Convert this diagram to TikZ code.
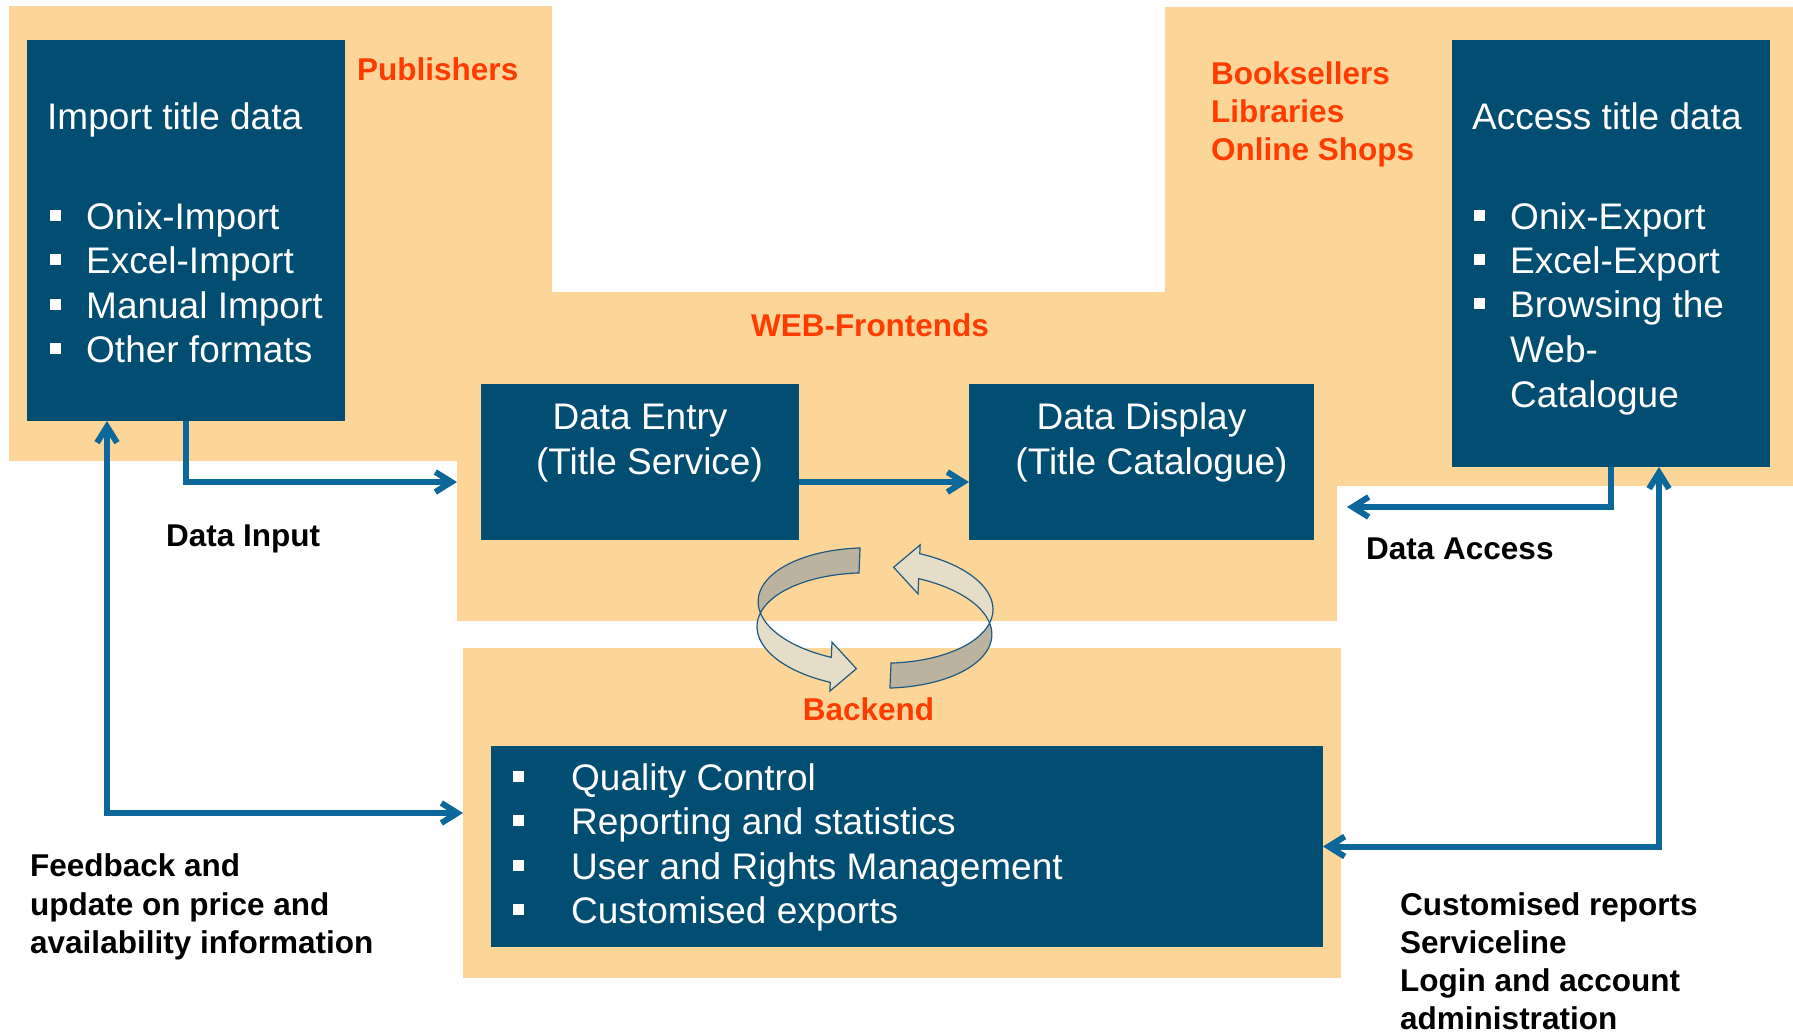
\documentclass[tikz,border=0pt]{standalone}
\usepackage{fontspec}
\setmainfont{Liberation Sans}
\usetikzlibrary{arrows.meta}
\definecolor{panelc}{RGB}{252,213,153}
\definecolor{boxc}{RGB}{2,77,114}
\definecolor{connc}{RGB}{12,104,155}
\definecolor{hdrc}{RGB}{255,60,0}
\definecolor{ringdark}{RGB}{187,179,160}
\definecolor{ringlight}{RGB}{230,221,200}
\definecolor{ringline}{RGB}{30,90,130}
\newcommand{\bitem}[2]{\makebox[#1][l]{\raisebox{8.5pt}{\rule{11pt}{11pt}}}#2}
\begin{document}
\begin{tikzpicture}[x=1pt,y=-1pt,
  panel/.style={fill=panelc, draw=none, inner sep=0pt, outer sep=0pt, anchor=north west},
  dbox/.style={fill=boxc, draw=none, inner sep=0pt, outer sep=0pt, anchor=north west},
  wt/.style={text=white, inner sep=0pt, font=\fontsize{37}{44.5}\selectfont, anchor=base west},
  hd/.style={text=hdrc, inner sep=0pt, font=\fontsize{31.5}{38}\selectfont\bfseries, anchor=base west},
  lb/.style={text=black, inner sep=0pt, font=\fontsize{31.5}{38}\selectfont\bfseries, anchor=base west},
  conn/.style={draw=connc, line width=6pt},
  >={Straight Barb[length=16pt,width=20pt]},
  ringD/.style={fill=ringdark, draw=ringline, line width=1.2pt},
  ringL/.style={fill=ringlight, draw=ringline, line width=1.2pt}]
\useasboundingbox (0,0) rectangle (1793,1034);
% panels
\node[panel, minimum width=543pt, minimum height=455pt] (pubp) at (9,6) {};
\node[panel, minimum width=880pt, minimum height=329pt] (web) at (457,292) {};
\node[panel, minimum width=628pt, minimum height=479pt] (shopp) at (1165,7) {};
\node[panel, minimum width=878pt, minimum height=330pt] (back) at (463,648) {};
% dark boxes
\node[dbox, minimum width=318pt, minimum height=381pt] (imp) at (27,40) {};
\node[dbox, minimum width=318pt, minimum height=156pt] (entry) at (481,384) {};
\node[dbox, minimum width=345pt, minimum height=156pt] (disp) at (969,384) {};
\node[dbox, minimum width=318pt, minimum height=427pt] (acc) at (1452,40) {};
\node[dbox, minimum width=832pt, minimum height=201pt] (list) at (491,746) {};
% white texts
\node[wt] (impt) at (47,129) {Import title data};
\node[wt] (imp1) at (50,229) {\bitem{36pt}{Onix-Import}};
\node[wt] (imp2) at (50,273) {\bitem{36pt}{Excel-Import}};
\node[wt] (imp3) at (50,318) {\bitem{36pt}{Manual Import}};
\node[wt] (imp4) at (50,362) {\bitem{36pt}{Other formats}};
\node[wt] (acct) at (1472,129) {Access title data};
\node[wt] (acc1) at (1474,229) {\bitem{36pt}{Onix-Export}};
\node[wt] (acc2) at (1474,273) {\bitem{36pt}{Excel-Export}};
\node[wt] (acc3) at (1474,317) {\bitem{36pt}{Browsing the}};
\node[wt] (acc4) at (1510,362) {Web-};
\node[wt] (acc5) at (1510,407) {Catalogue};
\node[wt, anchor=base] (de1) at (640,429) {Data Entry};
\node[wt, anchor=base] (de2) at (649.5,474) {(Title Service)};
\node[wt, anchor=base] (dd1) at (1141.5,429) {Data Display};
\node[wt, anchor=base] (dd2) at (1151.5,474) {(Title Catalogue)};
\node[wt] (bl1) at (513,790) {\bitem{58pt}{Quality Control}};
\node[wt] (bl2) at (513,834) {\bitem{58pt}{Reporting and statistics}};
\node[wt] (bl3) at (513,879) {\bitem{58pt}{User and Rights Management}};
\node[wt] (bl4) at (513,923.5) {\bitem{58pt}{Customised exports}};
% orange headings
\node[hd] (pub) at (357,80) {Publishers};
\node[hd] (bs1) at (1211,84) {Booksellers};
\node[hd] (bs2) at (1211,122) {Libraries};
\node[hd] (bs3) at (1211,160) {Online Shops};
\node[hd, anchor=base] (webl) at (870,336.5) {WEB-Frontends};
\node[hd, anchor=base] (backl) at (868.5,720) {Backend};
% black labels
\node[lb] (din) at (166,546) {Data Input};
\node[lb] (dac) at (1366,559.5) {Data Access};
\node[lb] (fb1) at (30,876) {Feedback and};
\node[lb] (fb2) at (30,915) {update on price and};
\node[lb] (fb3) at (30,953.5) {availability information};
\node[lb] (cr1) at (1400,915) {Customised reports};
\node[lb] (cr2) at (1400,953) {Serviceline};
\node[lb] (cr3) at (1400,991.5) {Login and account};
\node[lb] (cr4) at (1400,1029.5) {administration};
% connectors
\coordinate (row) at (0,482);
\coordinate (fbx) at (107,0);
\coordinate (datip) at (1347,507);
\coordinate (rx) at (1659,0);
\draw[conn,->] (imp.south) |- (web.west |- row);
\draw[conn,<->] (fbx |- imp.south) |- (back.west);
\draw[conn,->] (entry.east |- row) -- (disp.west |- row);
\draw[conn,->] (acc.south) |- (datip);
\draw[conn,<->] (list.east) -| (rx |- acc.south);
% circular arrows
\foreach \rot in {0,180}{
\begin{scope}[rotate around={\rot-2.5:(875,618)}]
\filldraw[ringD] plot[variable=\t,domain=98.8:192.56,samples=50] ({875+117.5*cos(\t)},{605.5-57.5*sin(\t)})
  -- plot[variable=\t,domain=167.44:98.8,samples=40] ({875+117.5*cos(\t)},{630.5-57.5*sin(\t)}) -- cycle;
\filldraw[ringL] plot[variable=\t,domain=192.56:249.1,samples=40] ({875+117.5*cos(\t)},{605.5-57.5*sin(\t)})
  -- (833.1,644) -- (858.6,669.5) -- (833.1,693)
  -- plot[variable=\t,domain=249.1:167.44,samples=50] ({875+117.5*cos(\t)},{630.5-57.5*sin(\t)}) -- cycle;
\end{scope}}
\end{tikzpicture}
\end{document}
